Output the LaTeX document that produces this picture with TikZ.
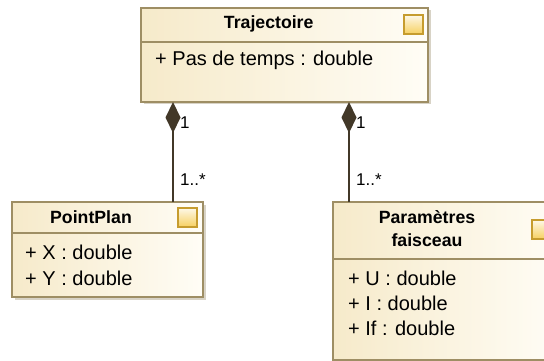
\documentclass[tikz,border=0pt]{standalone}
\usepackage{fontspec}
\setmainfont{Liberation Sans}
\usetikzlibrary{arrows.meta}
\definecolor{classfill}{RGB}{246,234,202}
\definecolor{classfillR}{RGB}{255,253,246}
\definecolor{classline}{RGB}{158,142,100}
\definecolor{assocline}{RGB}{66,56,40}
\definecolor{shadowcol}{RGB}{216,211,198}
\definecolor{iconfill}{RGB}{246,208,96}
\definecolor{iconline}{RGB}{198,156,46}
\begin{document}
\begin{tikzpicture}[x=1pt,y=-1pt,
  classbox/.style={draw=classline,line width=1.8pt,left color=classfill,right color=classfillR},
  shadowbox/.style={fill=shadowcol},
  iconbox/.style={draw=iconline,line width=1.2pt,top color=iconfill!15,bottom color=iconfill},
  title/.style={font=\fontsize{17.7}{23}\selectfont\bfseries,align=center},
  attr/.style={font=\fontsize{20}{25}\selectfont,anchor=west,inner sep=0pt},
  mult/.style={font=\fontsize{17}{20}\selectfont,anchor=west,inner sep=0pt},
  assoc/.style={draw=assocline,line width=2.5pt,{Diamond[length=31pt,width=15pt,fill=assocline]}-}]
  \useasboundingbox (0,0) rectangle (544,361);
  \clip (0,0) rectangle (544,361);
  % Trajectoire
  \fill[shadowbox] (143.5,10.5) rectangle (430.5,104.5);
  \draw[classbox] (141,8) rectangle (428,102);
  \draw[classline,line width=1.5pt] (141,42) -- (428,42);
  \draw[iconbox] (404,15) rectangle (423,34);
  \node[title] (trajTitle) at (268.7,24) {Trajectoire};
  \node[attr] (trajPas) at (155,60) {+ Pas de temps : double};
  % PointPlan
  \fill[shadowbox] (14.5,204.5) rectangle (205.5,299.5);
  \draw[classbox] (12,202) rectangle (203,297);
  \draw[classline,line width=1.5pt] (12,233) -- (203,233);
  \draw[iconbox] (178,208) rectangle (197,227);
  \node[title] (ppTitle) at (91,217.5) {PointPlan};
  \node[attr] (ppX) at (25,252) {+ X : double};
  \node[attr] (ppY) at (25,278) {+ Y : double};
  % Parametres faisceau
  \fill[shadowbox] (335.5,204.5) rectangle (562.5,362.5);
  \draw[classbox] (333,202) rectangle (560,360);
  \draw[classline,line width=1.5pt] (333,259) -- (560,259);
  \draw[iconbox] (532,220) rectangle (551,239);
  \node[title] (pfTitle) at (427,228.5) {Paramètres\\faisceau};
  \node[attr] (pfU) at (348,278) {+ U : double};
  \node[attr] (pfI) at (348,303) {+ I : double};
  \node[attr] (pfIf) at (348,328) {+ If : double};
  % associations
  \coordinate (trajL) at (173,102);
  \coordinate (trajR) at (349,102);
  \coordinate (ppTop) at (173,202);
  \coordinate (pfTop) at (349,202);
  \draw[assoc] (trajL) -- (ppTop);
  \draw[assoc] (trajR) -- (pfTop);
  \node[mult] (multTL) at (180,123) {1};
  \node[mult] (multPP) at (180,180) {1..*};
  \node[mult] (multTR) at (356,123) {1};
  \node[mult] (multPF) at (356,180) {1..*};
\end{tikzpicture}
\end{document}
